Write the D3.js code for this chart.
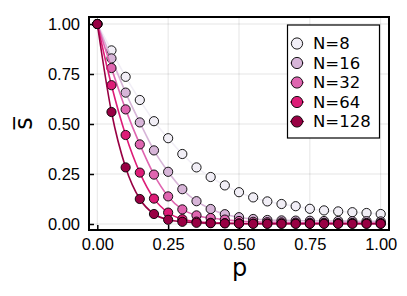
<!DOCTYPE html>
<html>
<head>
<meta charset="utf-8">
<script src="https://cdn.jsdelivr.net/npm/d3@7"></script>
<style>
  body { margin: 0; background: #fff; }
  svg { display: block; font-family: "DejaVu Sans", sans-serif; }
</style>
</head>
<body>
<div id="chart"></div>
<script>
// x values (p) and mean s for each N
const pValues = [0, 0.05, 0.1, 0.15, 0.2, 0.25, 0.3, 0.35, 0.4, 0.45, 0.5,
                 0.55, 0.6, 0.65, 0.7, 0.75, 0.8, 0.85, 0.9, 0.95, 1.0];
const sN8   = [1.0, 0.868, 0.736, 0.62, 0.514, 0.429, 0.35, 0.283, 0.235, 0.193, 0.159,
               0.133, 0.113, 0.1, 0.089, 0.076, 0.068, 0.063, 0.059, 0.055, 0.05];
const sN16  = [1.0, 0.828, 0.657, 0.508, 0.368, 0.261, 0.174, 0.114, 0.075, 0.049, 0.034,
               0.025, 0.02, 0.018, 0.017, 0.016, 0.015, 0.015, 0.014, 0.014, 0.013];
const sN32  = [1.0, 0.78, 0.573, 0.398, 0.247, 0.138, 0.073, 0.043, 0.03, 0.022, 0.015,
               0.011, 0.009, 0.008, 0.007, 0.006, 0.006, 0.005, 0.005, 0.005, 0.005];
const sN64  = [1.0, 0.694, 0.445, 0.257, 0.127, 0.057, 0.024, 0.012, 0.006, 0.004, 0.003,
               0.002, 0.002, 0.002, 0.002, 0.002, 0.002, 0.002, 0.002, 0.002, 0.002];
const sN128 = [1.0, 0.56, 0.283, 0.125, 0.05, 0.021, 0.011, 0.006, 0.004, 0.003, 0.002,
               0.001, 0.001, 0.001, 0.001, 0.001, 0.001, 0.001, 0.001, 0.001, 0.001];
const seriesNames = ["N=8", "N=16", "N=32", "N=64", "N=128"];
const seriesValues = [sN8, sN16, sN32, sN64, sN128];
const seriesColors = ["#f1eef6", "#d7b5d8", "#df65b0", "#dd1c77", "#980043"];
const xTicks = [0, 0.25, 0.5, 0.75, 1.0];
const yTicks = [0, 0.25, 0.5, 0.75, 1.0];

const W = 407, H = 296;
const frame = { left: 89, right: 389, top: 17, bottom: 230 };

const svg = d3.select("#chart").append("svg")
  .attr("width", W)
  .attr("height", H);

const x = d3.scaleLinear().domain([0, 1]).range([97.3, 380.7]);
const y = d3.scaleLinear().domain([0, 1]).range([224, 24]);

// grid
svg.append("g").selectAll("line.gx")
  .data(xTicks).enter().append("line")
  .attr("x1", d => x(d)).attr("x2", d => x(d))
  .attr("y1", frame.top).attr("y2", frame.bottom)
  .attr("stroke", "#000").attr("stroke-opacity", 0.1).attr("stroke-width", 1);
svg.append("g").selectAll("line.gy")
  .data(yTicks).enter().append("line")
  .attr("y1", d => y(d)).attr("y2", d => y(d))
  .attr("x1", frame.left).attr("x2", frame.right)
  .attr("stroke", "#000").attr("stroke-opacity", 0.1).attr("stroke-width", 1);

// axes: ticks inward, labels outside
const xAxis = d3.axisBottom(x).tickValues(xTicks).tickSize(-5).tickPadding(8)
  .tickFormat(d3.format(".2f"));
const yAxis = d3.axisLeft(y).tickValues(yTicks).tickSize(-5).tickPadding(9)
  .tickFormat(d3.format(".2f"));

const gx = svg.append("g")
  .attr("transform", "translate(0," + frame.bottom + ")")
  .call(xAxis);
const gy = svg.append("g")
  .attr("transform", "translate(" + frame.left + ",0)")
  .call(yAxis);
[gx, gy].forEach(g => {
  g.select(".domain").remove();
  g.selectAll(".tick line").attr("stroke", "#000").attr("stroke-width", 1.5);
  g.selectAll("text").attr("fill", "#000").style("font-size", "16.5px");
});

// series
const line = d3.line()
  .x((d, i) => x(pValues[i]))
  .y(d => y(d))
  .curve(d3.curveMonotoneX);

seriesValues.forEach((vals, k) => {
  const g = svg.append("g");
  g.append("path")
    .attr("d", line(vals))
    .attr("fill", "none")
    .attr("stroke", seriesColors[k])
    .attr("stroke-width", 1.6);
  g.selectAll("circle")
    .data(vals).enter().append("circle")
    .attr("cx", (d, i) => x(pValues[i]))
    .attr("cy", d => y(d))
    .attr("r", 4.6)
    .attr("fill", seriesColors[k])
    .attr("stroke", "#000")
    .attr("stroke-width", 0.9);
});

// frame
svg.append("rect")
  .attr("x", frame.left).attr("y", frame.top)
  .attr("width", frame.right - frame.left)
  .attr("height", frame.bottom - frame.top)
  .attr("fill", "none")
  .attr("stroke", "#000")
  .attr("stroke-width", 2);

// axis labels
svg.append("text")
  .attr("x", (frame.left + frame.right) / 2 + 0.5)
  .attr("y", 276)
  .attr("text-anchor", "middle")
  .style("font-size", "24px")
  .text("p");

svg.append("text")
  .attr("transform", "translate(32," + ((frame.top + frame.bottom) / 2) + ") rotate(-90)")
  .attr("text-anchor", "middle")
  .style("font-size", "24px")
  .text("s\u0305");

// legend
const leg = svg.append("g");
leg.append("rect")
  .attr("x", 287.5).attr("y", 25)
  .attr("width", 92).attr("height", 113)
  .attr("fill", "#fff")
  .attr("stroke", "#000")
  .attr("stroke-width", 1.2);

const item = leg.selectAll("g.item")
  .data(seriesNames).enter().append("g")
  .attr("transform", (d, i) => "translate(0," + (43.5 + i * 19.5) + ")");
item.append("line")
  .attr("x1", 290).attr("x2", 304)
  .attr("stroke", (d, i) => seriesColors[i])
  .attr("stroke-width", 1.5);
item.append("circle")
  .attr("cx", 297).attr("cy", 0).attr("r", 5.6)
  .attr("fill", (d, i) => seriesColors[i])
  .attr("stroke", "#000").attr("stroke-width", 0.9);
item.append("text")
  .attr("x", 313).attr("y", 0).attr("dy", "0.36em")
  .style("font-size", "16.5px")
  .text(d => d);
</script>
</body>
</html>
